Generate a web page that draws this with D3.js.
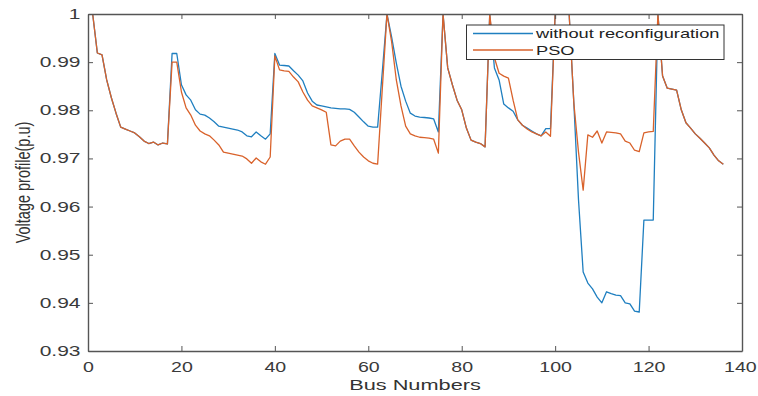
<!DOCTYPE html>
<html>
<head>
<meta charset="utf-8">
<script src="https://cdn.jsdelivr.net/npm/d3@7"></script>
<style>
  body { margin: 0; background: #fff; }
  svg { display: block; font-family: "Liberation Sans", Arial, sans-serif; }
</style>
</head>
<body>
<div id="chart"></div>
<script>
// voltage per bus (bus 1 .. 136)
const withoutReconfig = [
  1.0000, 0.9919, 0.9915, 0.9863, 0.9826, 0.9794, 0.9765, 0.9761, 0.9757, 0.9753,
  0.9745, 0.9736, 0.9731, 0.9734, 0.9728, 0.9732, 0.9730, 0.9918, 0.9918, 0.9853,
  0.9832, 0.9821, 0.9801, 0.9792, 0.9790, 0.9784, 0.9776, 0.9767, 0.9765, 0.9763,
  0.9761, 0.9759, 0.9755, 0.9747, 0.9745, 0.9755, 0.9747, 0.9740, 0.9751, 0.9918,
  0.9894, 0.9893, 0.9892, 0.9882, 0.9873, 0.9861, 0.9836, 0.9819, 0.9811, 0.9809,
  0.9807, 0.9805, 0.9804, 0.9803, 0.9803, 0.9802, 0.9796, 0.9786, 0.9776, 0.9767,
  0.9765, 0.9765, 0.9880, 1.0000, 0.9952, 0.9898, 0.9850, 0.9819, 0.9794, 0.9788,
  0.9786, 0.9785, 0.9784, 0.9782, 0.9755, 1.0000, 0.9888, 0.9853, 0.9821, 0.9801,
  0.9763, 0.9738, 0.9734, 0.9731, 0.9724, 1.0000, 0.9888, 0.9863, 0.9813, 0.9805,
  0.9798, 0.9780, 0.9769, 0.9763, 0.9757, 0.9751, 0.9747, 0.9762, 0.9762, 1.0000,
  1.0000, 1.0000, 1.0000, 0.9815, 0.9614, 0.9464, 0.9441, 0.9429, 0.9412, 0.9400,
  0.9423, 0.9419, 0.9416, 0.9415, 0.9400, 0.9398, 0.9383, 0.9381, 0.9572, 0.9572,
  0.9572, 1.0000, 0.9871, 0.9846, 0.9844, 0.9842, 0.9801, 0.9774, 0.9763, 0.9751,
  0.9742, 0.9732, 0.9722, 0.9707, 0.9695, 0.9688
];
const pso = [
  1.0000, 0.9919, 0.9915, 0.9863, 0.9826, 0.9794, 0.9765, 0.9761, 0.9757, 0.9753,
  0.9745, 0.9736, 0.9731, 0.9734, 0.9728, 0.9732, 0.9730, 0.9900, 0.9900, 0.9838,
  0.9805, 0.9790, 0.9769, 0.9757, 0.9751, 0.9747, 0.9738, 0.9728, 0.9713, 0.9711,
  0.9709, 0.9707, 0.9705, 0.9699, 0.9690, 0.9701, 0.9693, 0.9688, 0.9703, 0.9913,
  0.9884, 0.9882, 0.9881, 0.9869, 0.9859, 0.9838, 0.9821, 0.9809, 0.9805, 0.9801,
  0.9796, 0.9728, 0.9726, 0.9736, 0.9740, 0.9740, 0.9726, 0.9713, 0.9703, 0.9695,
  0.9690, 0.9688, 0.9845, 1.0000, 0.9942, 0.9863, 0.9809, 0.9767, 0.9751, 0.9747,
  0.9744, 0.9743, 0.9742, 0.9740, 0.9711, 1.0000, 0.9888, 0.9853, 0.9821, 0.9801,
  0.9763, 0.9738, 0.9734, 0.9731, 0.9724, 1.0000, 0.9909, 0.9877, 0.9871, 0.9867,
  0.9821, 0.9780, 0.9769, 0.9761, 0.9755, 0.9751, 0.9747, 0.9755, 0.9746, 1.0000,
  1.0000, 1.0000, 1.0000, 0.9815, 0.9713, 0.9634, 0.9749, 0.9744, 0.9757, 0.9732,
  0.9755, 0.9754, 0.9753, 0.9751, 0.9736, 0.9732, 0.9717, 0.9714, 0.9753, 0.9755,
  0.9756, 1.0000, 0.9871, 0.9846, 0.9844, 0.9842, 0.9801, 0.9774, 0.9763, 0.9751,
  0.9742, 0.9732, 0.9722, 0.9707, 0.9695, 0.9688
];
const xTicks = [0, 20, 40, 60, 80, 100, 120, 140];
const yTicks = [0.93, 0.94, 0.95, 0.96, 0.97, 0.98, 0.99, 1];
const yTickLabels = ["0.93", "0.94", "0.95", "0.96", "0.97", "0.98", "0.99", "1"];
const seriesNames = ["without reconfiguration", "PSO"];
const seriesColors = ["#1f7fc0", "#d9622b"];

const width = 758, height = 396;
const margin = {top: 14, right: 16, bottom: 45, left: 88};

const svg = d3.select("#chart").append("svg")
  .attr("width", width)
  .attr("height", height);

const x = d3.scaleLinear().domain([0, 140]).range([margin.left, width - margin.right]);
const y = d3.scaleLinear().domain([0.93, 1]).range([height - margin.bottom, margin.top]);

// lines first, box drawn over them
svg.append("clipPath").attr("id", "plotclip")
  .append("rect")
    .attr("x", margin.left).attr("y", margin.top)
    .attr("width", width - margin.left - margin.right)
    .attr("height", height - margin.top - margin.bottom);

const line = d3.line()
  .x((d, i) => x(i + 1))
  .y(d => y(d));

const plot = svg.append("g").attr("clip-path", "url(#plotclip)");
[withoutReconfig, pso].forEach((s, k) => {
  plot.append("path")
    .datum(s)
    .attr("fill", "none")
    .attr("stroke", seriesColors[k])
    .attr("stroke-width", 1.3)
    .attr("stroke-linejoin", "round")
    .attr("d", line);
});

// axes, ticks pointing inward like matlab
const gx = svg.append("g")
  .attr("transform", `translate(0,${height - margin.bottom})`)
  .call(d3.axisBottom(x).tickValues(xTicks).tickSize(-5).tickPadding(11).tickSizeOuter(0));
const gy = svg.append("g")
  .attr("transform", `translate(${margin.left},0)`)
  .call(d3.axisLeft(y).tickValues(yTicks).tickSize(-5).tickPadding(5).tickSizeOuter(0)
    .tickFormat((d, i) => yTickLabels[i]));
const gt = svg.append("g")
  .attr("transform", `translate(0,${margin.top})`)
  .call(d3.axisTop(x).tickValues(xTicks).tickSize(-5).tickSizeOuter(0).tickFormat(""));
const gr = svg.append("g")
  .attr("transform", `translate(${width - margin.right},0)`)
  .call(d3.axisRight(y).tickValues(yTicks).tickSize(-5).tickSizeOuter(0).tickFormat(""));

[gx, gy, gt, gr].forEach(g => {
  g.select(".domain").attr("stroke", "#555").attr("stroke-width", 1.4);
  g.selectAll(".tick line").attr("stroke", "#555");
});
[gx, gy].forEach(g => {
  g.selectAll(".tick text")
    .attr("font-size", 14)
    .attr("font-family", "Liberation Sans, Arial, sans-serif")
    .attr("fill", "#3a3a3a");
});
gy.selectAll(".tick text").attr("transform", "scale(1.5,1)");
gx.selectAll(".tick text").attr("transform", "scale(1.4,1)");
gx.selectAll(".tick:last-of-type text").attr("dx", -1.5);

// axis titles
svg.append("text")
  .attr("transform", `translate(${(margin.left + width - margin.right) / 2},390) scale(1.45,1)`)
  .attr("text-anchor", "middle")
  .attr("font-size", 15)
  .attr("fill", "#333")
  .text("Bus Numbers");

svg.append("text")
  .attr("transform", `translate(29.5,${(margin.top + height - margin.bottom) / 2}) scale(1.45,1) rotate(-90)`)
  .attr("text-anchor", "middle")
  .attr("font-size", 14.5)
  .attr("fill", "#333")
  .text("Voltage profile(p.u)");

// legend
const legend = svg.append("g");
legend.append("rect")
  .attr("x", 466.5).attr("y", 25)
  .attr("width", 257.5).attr("height", 34.5)
  .attr("fill", "#fff")
  .attr("stroke", "#333")
  .attr("stroke-width", 1);

seriesNames.forEach((name, k) => {
  const ly = 33.5 + k * 16.5;
  legend.append("line")
    .attr("x1", 473).attr("x2", 533)
    .attr("y1", ly).attr("y2", ly)
    .attr("stroke", seriesColors[k])
    .attr("stroke-width", 1.3);
  legend.append("text")
    .attr("transform", `translate(536,${ly}) scale(1.46,1)`)
    .attr("dy", "0.36em")
    .attr("font-size", 12.5)
    .attr("fill", "#222")
    .text(name);
});
</script>
</body>
</html>
